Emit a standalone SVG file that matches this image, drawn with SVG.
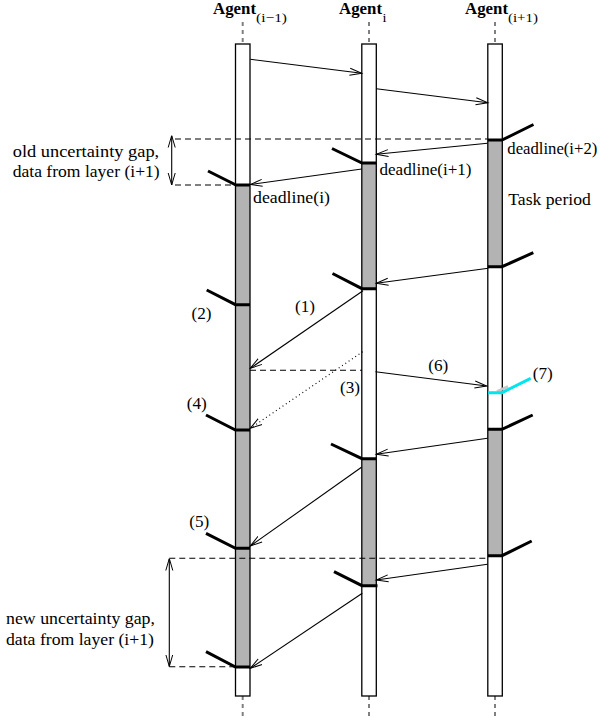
<svg xmlns="http://www.w3.org/2000/svg" width="603" height="723" viewBox="0 0 603 723">
<style>
.lbl{font-family:"Liberation Serif","Times New Roman",serif;font-size:17px;fill:#000}
.num{font-family:"Liberation Serif","Times New Roman",serif;font-size:16px;fill:#000}
.ag{font-family:"Liberation Serif","Times New Roman",serif;font-size:16px;font-weight:bold;fill:#000}
.sub{font-family:"Liberation Serif","Times New Roman",serif;font-size:13px;fill:#000}
.life{stroke:#808080;stroke-width:2;stroke-dasharray:4 4;fill:none}
.bar{fill:none;stroke:#000;stroke-width:1.3}
.bg{fill:#fff}
.act{fill:#b3b3b3}
.tick{stroke:#000;stroke-width:3;fill:none;stroke-linejoin:miter}
.msg{stroke:#000;stroke-width:1.1;fill:none;marker-end:url(#arr)}
.dot{stroke:#000;stroke-width:1.1;fill:none;stroke-dasharray:1 3;marker-end:url(#arr)}
.dash{stroke:#000;stroke-width:1.1;fill:none;stroke-dasharray:6 4}
.dim{stroke:#000;stroke-width:1.1;fill:none;marker-start:url(#arrs);marker-end:url(#arr)}
</style>
<defs>
<marker id="arr" markerUnits="userSpaceOnUse" markerWidth="14" markerHeight="10" refX="12" refY="5" orient="auto">
<path d="M0,1.5 L12,5 L0,8.5" fill="none" stroke="#000" stroke-width="1"/>
</marker>
<marker id="arrs" markerUnits="userSpaceOnUse" markerWidth="14" markerHeight="10" refX="0" refY="5" orient="auto">
<path d="M12,1.5 L0,5 L12,8.5" fill="none" stroke="#000" stroke-width="1"/>
</marker>
</defs>

<g id="agent-im1">
<text class="ag" x="213" y="14" textLength="43" lengthAdjust="spacingAndGlyphs">Agent</text>
<text class="sub" x="256" y="22" textLength="31" lengthAdjust="spacingAndGlyphs">(i−1)</text>
<line class="life" x1="242.7" y1="22" x2="242.7" y2="44"/>
<line class="life" x1="242.7" y1="696" x2="242.7" y2="720"/>
<rect class="bg" x="235.5" y="44" width="14.5" height="652"/>
<rect class="act" x="235.5" y="185" width="14.5" height="482"/>
<rect class="bar" x="235.5" y="44" width="14.5" height="652"/>
</g>

<g id="agent-i">
<text class="ag" x="339" y="14" textLength="43" lengthAdjust="spacingAndGlyphs">Agent</text>
<text class="sub" x="382.5" y="22" textLength="4" lengthAdjust="spacingAndGlyphs">i</text>
<line class="life" x1="369" y1="22" x2="369" y2="44"/>
<line class="life" x1="369" y1="696" x2="369" y2="720"/>
<rect class="bg" x="361.8" y="44" width="14.5" height="652"/>
<rect class="act" x="361.8" y="163" width="14.5" height="126"/>
<rect class="act" x="361.8" y="459" width="14.5" height="127"/>
<rect class="bar" x="361.8" y="44" width="14.5" height="652"/>
</g>

<g id="agent-ip1">
<text class="ag" x="465" y="14" textLength="43" lengthAdjust="spacingAndGlyphs">Agent</text>
<text class="sub" x="508" y="22" textLength="30" lengthAdjust="spacingAndGlyphs">(i+1)</text>
<line class="life" x1="495" y1="22" x2="495" y2="44"/>
<line class="life" x1="495" y1="696" x2="495" y2="720"/>
<rect class="bg" x="487.8" y="44" width="14.5" height="652"/>
<rect class="act" x="487.8" y="140" width="14.5" height="126.5"/>
<rect class="act" x="487.8" y="429.5" width="14.5" height="126"/>
<rect class="bar" x="487.8" y="44" width="14.5" height="652"/>
</g>

<g id="deadlines">
<polyline class="tick" points="208,171 236,185 250,185"/>
<polyline class="tick" points="332,148.5 362,163 376,163"/>
<polyline class="tick" points="488,140 502,140 533.5,124.5"/>
<polyline class="tick" points="332.5,273.5 362,288.7 376,288.7"/>
<polyline class="tick" points="488,266.7 502,266.7 533.3,252.7"/>
<polyline class="tick" points="206.7,290 235.5,304.7 250,304.7"/>
<polyline class="tick" points="206,415 235.5,430 250,430"/>
<line x1="497" y1="391.5" x2="508" y2="386.5" stroke="#c8c8c8" stroke-width="3"/>
<polyline points="488,392.7 502,392.7 530.7,378.3" fill="none" stroke="#00e5ee" stroke-width="3"/>
<polyline class="tick" points="488,429.3 502,429.3 532.7,415"/>
<polyline class="tick" points="331,444 362,458.7 376,458.7"/>
<polyline class="tick" points="206,533.3 235.5,548.3 250,548.3"/>
<polyline class="tick" points="488,555.7 502,555.7 531.7,541"/>
<polyline class="tick" points="334,571.7 362,585.7 377.5,585.7"/>
<polyline class="tick" points="206,651.7 235.5,667 250,667"/>
</g>

<g id="connectors">
<line class="msg" x1="250.3" y1="59.3" x2="361.7" y2="73.3"/>
<line class="msg" x1="376.3" y1="88.7" x2="487.8" y2="102.7"/>
<line class="msg" x1="487.5" y1="143.3" x2="376.3" y2="154.3"/>
<line class="msg" x1="361.8" y1="169" x2="250.3" y2="184.5"/>
<line class="msg" x1="488.3" y1="268.3" x2="376.3" y2="283.3"/>
<line class="msg" x1="363" y1="290.7" x2="250.3" y2="368.3"/>
<line class="dot" x1="362.7" y1="351.7" x2="250.3" y2="428.3"/>
<line class="msg" x1="375.5" y1="371.7" x2="486.7" y2="386"/>
<line class="msg" x1="487.5" y1="438.3" x2="376.3" y2="454.3"/>
<line class="msg" x1="361.5" y1="467.3" x2="250.3" y2="546"/>
<line class="msg" x1="487.5" y1="564.3" x2="376.3" y2="580"/>
<line class="msg" x1="362.3" y1="593.3" x2="250.3" y2="668.3"/>
<line class="dash" x1="175" y1="139" x2="487.8" y2="139"/>
<line class="dash" x1="175" y1="185" x2="235.5" y2="185"/>
<line class="dash" x1="250" y1="370.3" x2="362" y2="370.3"/>
<line class="dash" x1="169.3" y1="558.3" x2="487.8" y2="558.3"/>
<line class="dash" x1="169.3" y1="666.7" x2="235.5" y2="666.7"/>
<line class="dim" x1="171.7" y1="135.5" x2="171.7" y2="185"/>
<line class="dim" x1="169.3" y1="558.5" x2="169.3" y2="666.5"/>
</g>

<g id="labels">
<text class="lbl" x="12.7" y="157" textLength="146.5" lengthAdjust="spacingAndGlyphs">old uncertainty gap,</text>
<text class="lbl" x="12.7" y="177" textLength="147" lengthAdjust="spacingAndGlyphs">data from layer (i+1)</text>
<text class="lbl" x="6" y="623.5" textLength="149" lengthAdjust="spacingAndGlyphs">new uncertainty gap,</text>
<text class="lbl" x="6" y="645" textLength="148" lengthAdjust="spacingAndGlyphs">data from layer (i+1)</text>
<text class="lbl" x="507.3" y="153.5" textLength="90" lengthAdjust="spacingAndGlyphs">deadline(i+2)</text>
<text class="lbl" x="379.5" y="175" textLength="92" lengthAdjust="spacingAndGlyphs">deadline(i+1)</text>
<text class="lbl" x="253" y="203" textLength="77" lengthAdjust="spacingAndGlyphs">deadline(i)</text>
<text class="lbl" x="508.3" y="205" textLength="82.5" lengthAdjust="spacingAndGlyphs">Task period</text>
<text class="num" x="295" y="311.7" textLength="20" lengthAdjust="spacingAndGlyphs">(1)</text>
<text class="num" x="191.5" y="319.3" textLength="20" lengthAdjust="spacingAndGlyphs">(2)</text>
<text class="num" x="340" y="393.3" textLength="20" lengthAdjust="spacingAndGlyphs">(3)</text>
<text class="num" x="186.7" y="409" textLength="20" lengthAdjust="spacingAndGlyphs">(4)</text>
<text class="num" x="189.3" y="526.7" textLength="20" lengthAdjust="spacingAndGlyphs">(5)</text>
<text class="num" x="428.3" y="370.7" textLength="20" lengthAdjust="spacingAndGlyphs">(6)</text>
<text class="num" x="532.7" y="379.3" textLength="20" lengthAdjust="spacingAndGlyphs">(7)</text>
</g>
</svg>
